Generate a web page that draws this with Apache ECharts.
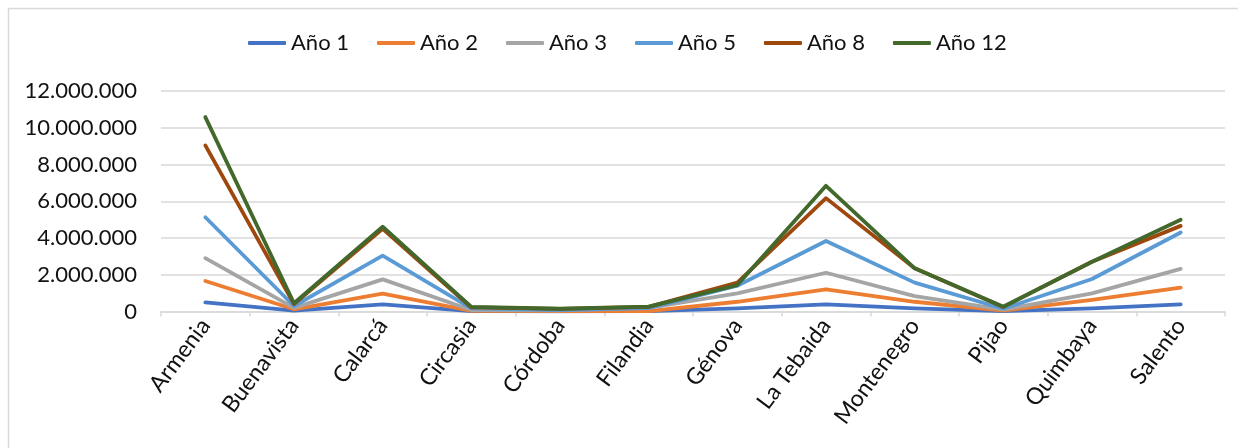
<!DOCTYPE html>
<html>
<head>
<meta charset="utf-8">
<script src="https://cdn.jsdelivr.net/npm/echarts@6/dist/echarts.min.js"></script>
<style>
  html, body { margin: 0; padding: 0; background: #fff; }
  #chart { width: 1238px; height: 448px; }
</style>
</head>
<body>
<div id="chart"></div>
<script>
const categories = ['Armenia','Buenavista','Calarcá','Circasia','Córdoba','Filandia','Génova','La Tebaida','Montenegro','Pijao','Quimbaya','Salento'];
const seriesNames = ['Año 1','Año 2','Año 3','Año 5','Año 8','Año 12'];
const ano1  = [500000, 50000, 390000, 20000, 10000, 20000, 170000, 390000, 170000, 20000, 170000, 390000];
const ano2  = [1660000, 120000, 970000, 30000, 20000, 20000, 530000, 1210000, 530000, 50000, 630000, 1300000];
const ano3  = [2900000, 200000, 1750000, 80000, 60000, 200000, 990000, 2110000, 840000, 100000, 990000, 2320000];
const ano5  = [5130000, 300000, 3040000, 170000, 80000, 180000, 1400000, 3840000, 1570000, 150000, 1770000, 4300000];
const ano8  = [9040000, 400000, 4500000, 220000, 140000, 250000, 1570000, 6170000, 2350000, 250000, 2710000, 4660000];
const ano12 = [10580000, 450000, 4620000, 250000, 150000, 270000, 1440000, 6840000, 2350000, 260000, 2710000, 4990000];
const yTicks = { min: 0, max: 12000000, interval: 2000000 };
const colors = ['#4472C4', '#ED7D31', '#A5A5A5', '#5B9BD5', '#9E480E', '#43682B'];
const allData = [ano1, ano2, ano3, ano5, ano8, ano12];

const FONT = 'Lato';
const chart = echarts.init(document.getElementById('chart'), null, { renderer: 'canvas' });

function fmt(v) {
  return String(v).replace(/\B(?=(\d{3})+(?!\d))/g, '.');
}

chart.setOption({
  animation: false,
  color: colors,
  textStyle: { fontFamily: FONT },
  graphic: [{
    type: 'rect',
    shape: { x: 8.5, y: 8.5, width: 1240, height: 450 },
    style: { fill: 'none', stroke: '#d9d9d9', lineWidth: 1.5 },
    z: -1
  }],
  legend: {
    top: 27,
    left: 243,
    itemWidth: 38,
    itemHeight: 4,
    itemGap: 28,
    icon: 'roundRect',
    data: seriesNames,
    textStyle: { fontFamily: FONT, fontSize: 22, color: '#111' }
  },
  grid: { left: 161, right: 13, top: 91, bottom: 136.5, containLabel: false },
  xAxis: {
    type: 'category',
    data: categories,
    boundaryGap: true,
    axisLine: { lineStyle: { color: '#d9d9d9', width: 1.5 } },
    axisTick: { show: true, length: 5, lineStyle: { color: '#d9d9d9', width: 1.5 } },
    axisLabel: { rotate: 53, margin: 10, fontFamily: FONT, fontSize: 23, color: '#111', interval: 0 }
  },
  yAxis: {
    type: 'value',
    min: yTicks.min,
    max: yTicks.max,
    interval: yTicks.interval,
    axisLine: { show: false },
    axisTick: { show: false },
    splitLine: { lineStyle: { color: '#d9d9d9', width: 1.5 } },
    axisLabel: { margin: 24, fontFamily: FONT, fontSize: 22, color: '#111', formatter: fmt }
  },
  series: seriesNames.map((name, i) => ({
    name: name,
    type: 'line',
    data: allData[i],
    symbol: 'none',
    lineStyle: { width: 3.8, color: colors[i], cap: 'round', join: 'round' },
    itemStyle: { color: colors[i] },
    z: 2 + i
  }))
});
</script>
</body>
</html>
